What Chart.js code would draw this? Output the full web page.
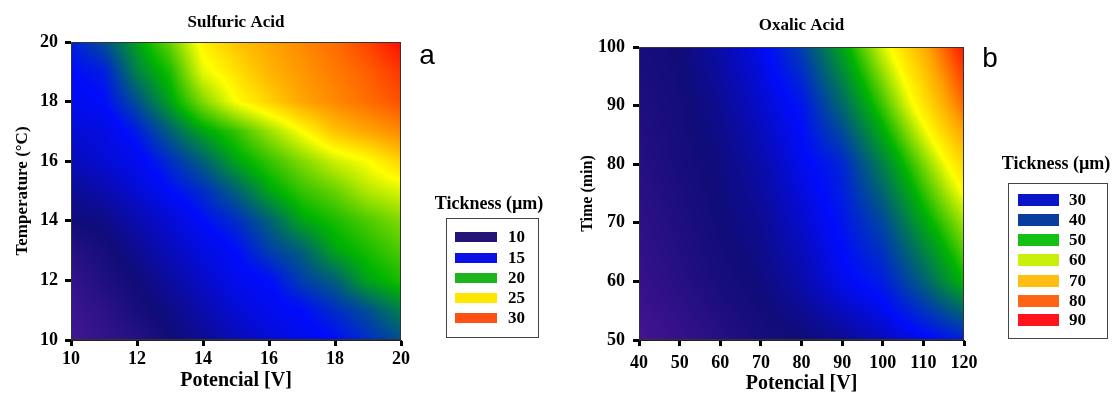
<!DOCTYPE html>
<html>
<head>
<meta charset="utf-8">
<script src="https://cdn.jsdelivr.net/npm/chart.js@4.4.1/dist/chart.umd.min.js"></script>
<style>
  body { margin: 0; background: #fff; }
  .panel { position: absolute; top: 0; width: 556px; height: 394px; }
  #wrapA { left: 0; }
  #wrapB { left: 556px; }
</style>
</head>
<body>
<div id="wrapA" class="panel"><canvas id="chartA"></canvas></div>
<div id="wrapB" class="panel"><canvas id="chartB"></canvas></div>
<script>
// Panel a: Sulfuric acid, thickness (um) on a potential x temperature grid
const sulfPotential = [10, 11, 12, 13, 14, 15, 16, 17, 18, 19, 20];
const sulfTemperature = [10, 11, 12, 13, 14, 15, 16, 17, 18, 19, 20];
// one row per temperature (10 -> 20), one column per potential
const sulfThickness = [
  [6.5, 7.5, 8.5, 10, 11, 12.5, 13.5, 14.5, 15, 16, 17],
  [7, 8, 9.5, 10.5, 12, 13.5, 14.5, 15, 16, 17, 18.5],
  [7.5, 9, 10, 11.5, 13, 14.5, 15, 16.5, 17.5, 19.5, 20.5],
  [8.5, 9.5, 11, 12.5, 14, 15, 16.5, 17.5, 19.5, 20.5, 21.5],
  [10, 10.5, 12, 13.5, 15, 16, 17.5, 19.5, 20.5, 21.5, 22.5],
  [11, 12, 13.5, 15, 16, 17.5, 19.5, 21, 22, 23.5, 24.3],
  [12.5, 13.5, 14.5, 16, 17.5, 19.5, 21, 22.5, 24, 25, 26.5],
  [13.5, 14, 15.5, 17.5, 19.5, 21, 23, 25, 27, 28, 29],
  [14.5, 15, 17, 19.5, 22.5, 25, 26.5, 28, 29, 30, 31],
  [15, 15.5, 18.5, 20.5, 24.5, 26, 27.5, 28.5, 29.5, 30.5, 32],
  [15.5, 17, 19.5, 22, 25.5, 27, 28, 29, 30, 31.5, 33.5]
];
const sulfXTicks = [10, 12, 14, 16, 18, 20];
const sulfYTicks = [10, 12, 14, 16, 18, 20];
const sulfLegendValues = [10, 15, 20, 25, 30];

// Panel b: Oxalic acid, thickness (um) on a potential x time grid
const oxPotential = [40, 50, 60, 70, 80, 90, 100, 110, 120];
const oxTime = [50, 60, 70, 80, 90, 100];
// one row per time (50 -> 100), one column per potential
const oxThickness = [
  [15, 17, 19, 21, 22, 23.5, 26, 29, 32],
  [17, 19, 21, 22.5, 25, 29, 32, 40, 50],
  [18, 20, 22, 23.5, 27, 31, 37, 48, 58],
  [19, 21, 22.5, 25, 29, 33, 44, 56, 68],
  [20, 21.5, 23.5, 27, 31, 41, 53, 66, 80],
  [21, 22, 25, 29, 36, 48, 61, 73, 88]
];
const oxXTicks = [40, 50, 60, 70, 80, 90, 100, 110, 120];
const oxYTicks = [50, 60, 70, 80, 90, 100];
const oxLegendValues = [30, 40, 50, 60, 70, 80, 90];

// colour ramps (value -> rgb)
const sulfStops = [
  [6, [72, 24, 148]], [10, [16, 12, 120]], [15, [0, 12, 250]], [17.5, [0, 95, 120]],
  [20, [0, 180, 0]], [25, [255, 255, 0]], [28, [255, 165, 0]], [31, [255, 80, 0]], [34, [255, 0, 0]]
];
const oxStops = [
  [14, [76, 20, 150]], [22, [16, 12, 120]], [30, [0, 12, 250]], [40, [0, 95, 120]],
  [50, [0, 180, 0]], [63, [255, 255, 0]], [75, [255, 160, 0]], [90, [255, 0, 0]]
];
const sulfLegendColors = ['#24147a', '#0a10e6', '#1cb41c', '#ffe600', '#ff5014'];
const oxLegendColors = ['#0a14c8', '#0a3ca0', '#14c014', '#c8f00a', '#ffbe14', '#ff6414', '#ff141e'];

const serif = "'Times New Roman', 'Liberation Serif', serif";

function rampColor(v, stops) {
  if (v <= stops[0][0]) return stops[0][1];
  for (let i = 1; i < stops.length; i++) {
    if (v <= stops[i][0]) {
      const a = stops[i - 1], b = stops[i];
      const t = (v - a[0]) / (b[0] - a[0]);
      return a[1].map((c, k) => Math.round(c + (b[1][k] - c) * t));
    }
  }
  return stops[stops.length - 1][1];
}

// position of v inside a regular axis array -> [index, fraction]
function cellOf(v, arr) {
  const step = arr[1] - arr[0];
  let f = (v - arr[0]) / step;
  f = Math.max(0, Math.min(arr.length - 1.0001, f));
  const i = Math.floor(f);
  return [i, f - i];
}

// shades the plot area from the grid, each pixel mapped back through the x/y scales
const heatmap = {
  id: 'heatmap',
  beforeDatasetsDraw(chart, args, o) {
    const { ctx, chartArea: area } = chart;
    const xs = chart.scales.x, ys = chart.scales.y;
    const w = Math.round(area.width), h = Math.round(area.height);
    const l = Math.round(area.left), t = Math.round(area.top);
    const img = ctx.createImageData(w, h);
    for (let py = 0; py < h; py++) {
      const [j, fy] = cellOf(ys.getValueForPixel(t + py + 0.5), o.ys);
      const r0 = o.grid[j], r1 = o.grid[j + 1];
      for (let px = 0; px < w; px++) {
        const [i, fx] = cellOf(xs.getValueForPixel(l + px + 0.5), o.xs);
        const a = r0[i] + (r0[i + 1] - r0[i]) * fx;
        const b = r1[i] + (r1[i + 1] - r1[i]) * fx;
        const c = rampColor(a + (b - a) * fy, o.stops);
        const k = (py * w + px) * 4;
        img.data[k] = c[0]; img.data[k + 1] = c[1]; img.data[k + 2] = c[2]; img.data[k + 3] = 255;
      }
    }
    ctx.putImageData(img, l, t);
    ctx.save();
    ctx.strokeStyle = '#333';
    ctx.lineWidth = 1;
    ctx.strokeRect(area.left + 0.5, area.top + 0.5, area.width - 1, area.height - 1);
    ctx.restore();
  }
};

// legend box + panel letter
const sideLegend = {
  id: 'sideLegend',
  afterDraw(chart, args, o) {
    const ctx = chart.ctx;
    ctx.save();
    ctx.fillStyle = '#000';
    ctx.textBaseline = 'middle';
    ctx.textAlign = 'center';
    ctx.font = 'bold 18px ' + serif;
    ctx.fillText('Tickness (\u00b5m)', o.titleX, o.titleY);
    ctx.strokeStyle = '#444';
    ctx.lineWidth = 1;
    ctx.strokeRect(o.box[0] + 0.5, o.box[1] + 0.5, o.box[2], o.box[3]);
    ctx.textAlign = 'left';
    ctx.font = 'bold 17px ' + serif;
    o.values.forEach((v, i) => {
      const y = o.rowY[i];
      ctx.fillStyle = o.colors[i];
      ctx.fillRect(o.swX, y - o.swH / 2, o.swW, o.swH);
      ctx.fillStyle = '#000';
      ctx.fillText(String(v), o.labelX, y + 1);
    });
    ctx.font = '28px Arial, "Liberation Sans", sans-serif';
    ctx.textBaseline = 'alphabetic';
    ctx.textAlign = 'center';
    ctx.fillText(o.letter, o.letterX, o.letterY);
    ctx.restore();
  }
};

function makeChart(id, p) {
  return new Chart(document.getElementById(id), {
    type: 'scatter',
    data: { datasets: [{ data: [], pointRadius: 0 }] },
    plugins: [heatmap, sideLegend],
    options: {
      responsive: true,
      maintainAspectRatio: false,
      animation: false,
      layout: { padding: { left: 0, right: p.padRight, top: 0, bottom: 0 } },
      plugins: {
        legend: { display: false },
        tooltip: { enabled: false },
        title: {
          display: true,
          text: p.title,
          fullSize: false,
          color: '#000',
          font: { family: serif, size: 17, weight: 'bold', lineHeight: 1 },
          padding: { top: p.titleTop, bottom: p.titleBottom }
        },
        heatmap: { xs: p.xs, ys: p.ys, grid: p.grid, stops: p.stops },
        sideLegend: p.legend
      },
      scales: {
        x: {
          type: 'linear',
          min: p.xTicks[0],
          max: p.xTicks[p.xTicks.length - 1],
          afterBuildTicks: s => { s.ticks = p.xTicks.map(v => ({ value: v })); },
          afterFit: s => { s.height = 54; },
          grid: { drawOnChartArea: false, drawTicks: true, tickLength: 6, tickWidth: 3, tickColor: '#000' },
          border: { display: true, color: '#222', width: 1 },
          ticks: { color: '#000', padding: p.xPad, maxRotation: 0, autoSkip: false,
                   font: { family: serif, size: 18, weight: 'bold', lineHeight: 1 } },
          title: { display: true, text: 'Potencial [V]', color: '#000',
                   font: { family: serif, size: 20, weight: 'bold', lineHeight: 1 },
                   padding: { top: 0, bottom: p.xTitlePad } }
        },
        y: {
          type: 'linear',
          min: p.yTicks[0],
          max: p.yTicks[p.yTicks.length - 1],
          afterBuildTicks: s => { s.ticks = p.yTicks.map(v => ({ value: v })); },
          afterFit: s => { s.width = p.yWidth; },
          grid: { drawOnChartArea: false, drawTicks: true, tickLength: 6, tickWidth: 3, tickColor: '#000' },
          border: { display: true, color: '#222', width: 1 },
          ticks: { color: '#000', padding: p.yPad, autoSkip: false,
                   font: { family: serif, size: 18, weight: 'bold' } },
          title: { display: true, text: p.yTitle, color: '#000',
                   font: { family: serif, size: p.yTitleSize, weight: 'bold', lineHeight: 1 },
                   padding: { top: p.yTitlePad, bottom: 0 } }
        }
      }
    }
  });
}

makeChart('chartA', {
  title: 'Sulfuric Acid', titleTop: 14, titleBottom: 11,
  xs: sulfPotential, ys: sulfTemperature, grid: sulfThickness, stops: sulfStops,
  xTicks: sulfXTicks, yTicks: sulfYTicks,
  padRight: 155, yWidth: 71, xPad: 4, yPad: 7, xTitlePad: 3,
  yTitle: 'Temperature (\u00b0C)', yTitleSize: 17, yTitlePad: 14,
  legend: {
    values: sulfLegendValues, colors: sulfLegendColors,
    titleX: 489, titleY: 204, box: [446, 218, 92, 119],
    swX: 455, swW: 42, swH: 10, labelX: 508,
    rowY: [237, 258, 278, 298, 318],
    letter: 'a', letterX: 427, letterY: 64
  }
});

makeChart('chartB', {
  title: 'Oxalic Acid', titleTop: 17, titleBottom: 13,
  xs: oxPotential, ys: oxTime, grid: oxThickness, stops: oxStops,
  xTicks: oxXTicks, yTicks: oxYTicks,
  padRight: 148, yWidth: 83, xPad: 8, yPad: 8, xTitlePad: 0,
  yTitle: 'Time (min)', yTitleSize: 16, yTitlePad: 24,
  legend: {
    values: oxLegendValues, colors: oxLegendColors,
    titleX: 500, titleY: 164, box: [452, 183, 99, 155],
    swX: 462, swW: 41, swH: 12, labelX: 513,
    rowY: [200, 220, 240, 260, 281, 301, 320],
    letter: 'b', letterX: 434, letterY: 67
  }
});
</script>
</body>
</html>
